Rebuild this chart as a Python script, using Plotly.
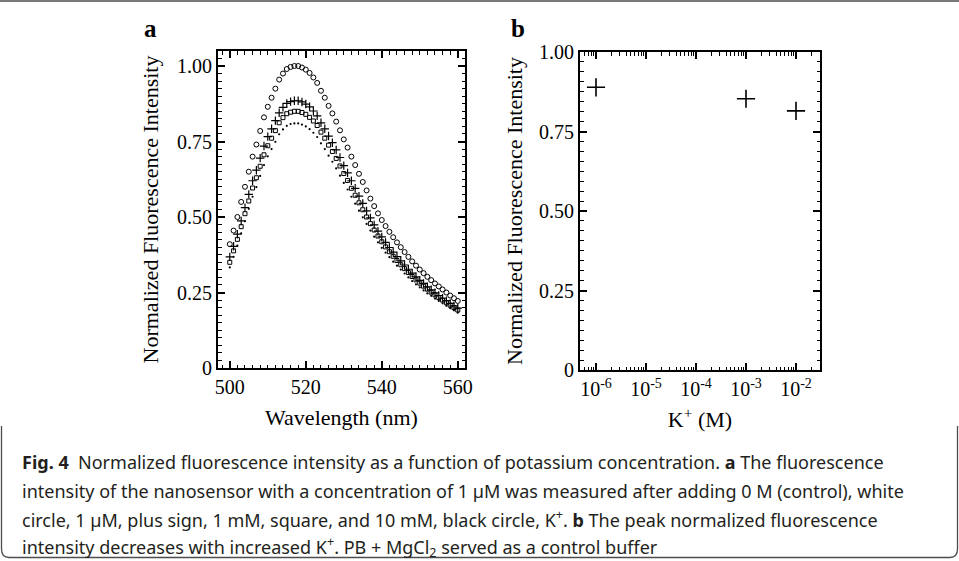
import plotly.graph_objects as go

# ---------------- data ----------------
wavelength = list(range(500, 561))

control_0M = [0.410, 0.455, 0.500, 0.550, 0.600, 0.650, 0.700, 0.740, 0.785, 0.830,
              0.865, 0.895, 0.925, 0.955, 0.975, 0.990, 0.997, 1.000, 1.000, 0.995,
              0.988, 0.977, 0.962, 0.944, 0.918, 0.895, 0.868, 0.843, 0.816, 0.787,
              0.757, 0.730, 0.700, 0.672, 0.643, 0.616, 0.588, 0.561, 0.536, 0.512,
              0.490, 0.470, 0.451, 0.433, 0.416, 0.400, 0.384, 0.368, 0.353, 0.339,
              0.326, 0.314, 0.302, 0.291, 0.280, 0.270, 0.260, 0.250, 0.240, 0.231,
              0.222]

k_1uM = [0.368, 0.403, 0.443, 0.487, 0.531, 0.575, 0.620, 0.655, 0.695, 0.735,
         0.766, 0.792, 0.819, 0.845, 0.863, 0.876, 0.882, 0.885, 0.885, 0.881,
         0.874, 0.865, 0.851, 0.835, 0.812, 0.792, 0.768, 0.746, 0.722, 0.697,
         0.670, 0.646, 0.620, 0.595, 0.569, 0.545, 0.520, 0.497, 0.474, 0.453,
         0.434, 0.416, 0.399, 0.384, 0.369, 0.355, 0.341, 0.327, 0.314, 0.302,
         0.290, 0.280, 0.269, 0.259, 0.249, 0.240, 0.231, 0.223, 0.214, 0.206,
         0.198]

k_1mM = [0.350, 0.388, 0.426, 0.468, 0.511, 0.553, 0.596, 0.630, 0.668, 0.706,
         0.736, 0.761, 0.786, 0.812, 0.829, 0.842, 0.847, 0.850, 0.850, 0.846,
         0.840, 0.830, 0.818, 0.803, 0.781, 0.761, 0.738, 0.717, 0.694, 0.669,
         0.644, 0.621, 0.595, 0.572, 0.547, 0.524, 0.500, 0.478, 0.457, 0.437,
         0.418, 0.401, 0.385, 0.370, 0.356, 0.342, 0.329, 0.316, 0.303, 0.292,
         0.281, 0.271, 0.261, 0.251, 0.242, 0.233, 0.225, 0.216, 0.208, 0.200,
         0.192]

k_10mM = [0.333, 0.368, 0.405, 0.446, 0.486, 0.527, 0.567, 0.599, 0.636, 0.672,
          0.701, 0.725, 0.749, 0.774, 0.790, 0.802, 0.808, 0.810, 0.810, 0.806,
          0.800, 0.791, 0.779, 0.765, 0.744, 0.725, 0.703, 0.683, 0.661, 0.637,
          0.613, 0.591, 0.567, 0.544, 0.521, 0.499, 0.477, 0.455, 0.435, 0.416,
          0.398, 0.382, 0.367, 0.352, 0.339, 0.326, 0.313, 0.300, 0.288, 0.277,
          0.267, 0.257, 0.247, 0.239, 0.230, 0.222, 0.214, 0.206, 0.198, 0.191,
          0.183]

k_conc = [1e-6, 1e-3, 1e-2]
peak_intensity = [0.889, 0.853, 0.815]

a_xticks = [500, 520, 540, 560]
y_ticks = [0, 0.25, 0.5, 0.75, 1.0]
y_ticklabels = ["0", "0.25", "0.50", "0.75", "1.00"]
b_xticks = [1e-6, 1e-5, 1e-4, 1e-3, 1e-2]
b_xticklabels = ["10<sup>-6</sup>", "10<sup>-5</sup>", "10<sup>-4</sup>",
                 "10<sup>-3</sup>", "10<sup>-2</sup>"]

caption_lines = [
    "<b>Fig. 4</b>  Normalized fluorescence intensity as a function of potassium concentration. <b>a</b> The fluorescence",
    "intensity of the nanosensor with a concentration of 1 µM was measured after adding 0 M (control), white",
    "circle, 1 µM, plus sign, 1 mM, square, and 10 mM, black circle, K<sup>+</sup>. <b>b</b> The peak normalized fluorescence",
    "intensity decreases with increased K<sup>+</sup>. PB + MgCl<sub>2</sub> served as a control buffer",
]

# ---------------- figure ----------------
W, H = 959, 561
SERIF = "Liberation Serif, Times New Roman, serif"
tickfont = dict(family=SERIF, size=20, color="black")
titlefont = dict(family=SERIF, size=22, color="black")

def px_x(p):
    return p / W

def px_y(p):
    return 1 - p / H

fig = go.Figure()

fig.add_trace(go.Scatter(x=wavelength, y=control_0M, mode="markers", name="0 M",
                         marker=dict(symbol="circle-open", size=5, color="black",
                                     line=dict(width=1, color="black")),
                         xaxis="x", yaxis="y"))
fig.add_trace(go.Scatter(x=wavelength, y=k_1uM, mode="markers", name="1 µM",
                         marker=dict(symbol="cross-thin", size=6, color="black",
                                     line=dict(width=1.2, color="black")),
                         xaxis="x", yaxis="y"))
fig.add_trace(go.Scatter(x=wavelength, y=k_1mM, mode="markers", name="1 mM",
                         marker=dict(symbol="square-open", size=4, color="black",
                                     line=dict(width=1, color="black")),
                         xaxis="x", yaxis="y"))
fig.add_trace(go.Scatter(x=wavelength, y=k_10mM, mode="markers", name="10 mM",
                         marker=dict(symbol="circle", size=2.2, color="black"),
                         xaxis="x", yaxis="y"))

fig.add_trace(go.Scatter(x=k_conc, y=peak_intensity, mode="markers", name="peak",
                         marker=dict(symbol="cross-thin", size=13, color="black",
                                     line=dict(width=1.6, color="black")),
                         xaxis="x2", yaxis="y2"))

axis_common = dict(showgrid=False, zeroline=False, showline=True, linewidth=2,
                   linecolor="black", mirror="ticks", ticks="inside", ticklen=7,
                   tickwidth=1.5, tickcolor="black", tickfont=tickfont,
                   automargin=False)

minor_tick_vals = [k * 10.0 ** e for e in range(-7, -1) for k in range(2, 10)]

fig.update_layout(
    width=W, height=H,
    margin=dict(l=0, r=0, t=0, b=0, autoexpand=False),
    paper_bgcolor="white", plot_bgcolor="white",
    showlegend=False,
    xaxis=dict(domain=[px_x(218), px_x(465)], anchor="y", range=[496.9, 561.9],
               tickvals=a_xticks, ticktext=[str(v) for v in a_xticks],
               minor=dict(dtick=2, tick0=500, ticks="inside", ticklen=3.5,
                          tickwidth=1, tickcolor="black"),
               title=dict(text="Wavelength (nm)", font=titlefont, standoff=13),
               **axis_common),
    yaxis=dict(domain=[px_y(368), px_y(51)], anchor="x", range=[0, 1.0497],
               tickvals=y_ticks, ticktext=y_ticklabels,
               minor=dict(dtick=0.025, tick0=0, ticks="inside", ticklen=3.5,
                          tickwidth=1, tickcolor="black"),
               title=dict(text="Normalized Fluorescence Intensity", font=titlefont,
                          standoff=12),
               **axis_common),
    xaxis2=dict(domain=[px_x(580), px_x(820)], anchor="y2", type="log",
                range=[-6.32, -1.52], tickvals=b_xticks, ticktext=b_xticklabels,
                minor=dict(tickvals=minor_tick_vals, ticks="inside", ticklen=3.5,
                           tickwidth=1, tickcolor="black"),
                title=dict(text="K<sup>+</sup> (M)", font=titlefont, standoff=13),
                **axis_common),
    yaxis2=dict(domain=[px_y(370), px_y(52)], anchor="x2", range=[0, 1.0],
                tickvals=y_ticks, ticktext=y_ticklabels,
                minor=dict(dtick=0.03125, tick0=0, ticks="inside", ticklen=3.5,
                           tickwidth=1, tickcolor="black"),
                title=dict(text="Normalized Fluorescence Intensity", font=titlefont,
                           standoff=10),
                **axis_common),
)

annotations = [
    dict(text="<b>a</b>", x=px_x(150), y=px_y(28), xref="paper", yref="paper",
         xanchor="center", yanchor="middle",
         showarrow=False, font=dict(family=SERIF, size=25, color="black")),
    dict(text="<b>b</b>", x=px_x(518), y=px_y(28), xref="paper", yref="paper",
         xanchor="center", yanchor="middle",
         showarrow=False, font=dict(family=SERIF, size=25, color="black")),
]
cap_y = [462, 491, 519, 547]
for line, yy in zip(caption_lines, cap_y):
    annotations.append(dict(text=line, x=px_x(20), y=px_y(yy), xref="paper", yref="paper",
                            xanchor="left", yanchor="middle", showarrow=False, align="left",
                            font=dict(family="Noto Sans, sans-serif", size=18,
                                      color="#231f20")))
fig.update_layout(annotations=annotations)

# frame lines (top rule and rounded caption box)
fig.add_shape(type="line", xref="paper", yref="paper", x0=0, x1=1, y0=px_y(1), y1=px_y(1),
              line=dict(color="#4d4d4d", width=1.5))
fig.add_shape(type="path", xref="paper", yref="paper",
              path=f"M {px_x(1.5)},{px_y(426)} L {px_x(1.5)},{px_y(549)} "
                   f"Q {px_x(1.5)},{px_y(557.5)} {px_x(9)},{px_y(557.5)} "
                   f"L {px_x(950)},{px_y(557.5)} Q {px_x(957.5)},{px_y(557.5)} {px_x(957.5)},{px_y(549)} "
                   f"L {px_x(957.5)},{px_y(426)}",
              line=dict(color="#4d4d4d", width=1.3))

fig.write_html("out.html",
               config={"displayModeBar": False},
               post_script="document.body.style.margin='0';document.body.style.overflow='hidden';")
